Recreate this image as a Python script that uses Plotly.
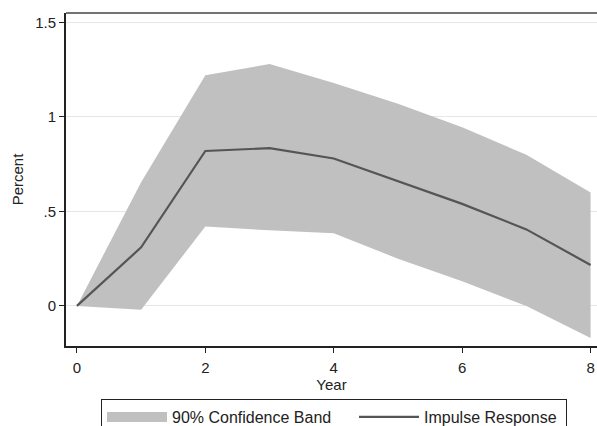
import plotly.graph_objects as go

years = [0, 1, 2, 3, 4, 5, 6, 7, 8]
impulse = [0.0, 0.31, 0.82, 0.835, 0.78, 0.66, 0.54, 0.405, 0.217]
upper = [0.0, 0.655, 1.22, 1.28, 1.18, 1.07, 0.945, 0.80, 0.60]
lower = [0.0, -0.02, 0.42, 0.40, 0.385, 0.25, 0.13, 0.0, -0.17]
yticks = [0, 0.5, 1, 1.5]
yticklabels = ["0", ".5", "1", "1.5"]
xticks = [0, 2, 4, 6, 8]
band_name = "90% Confidence Band"
line_name = "Impulse Response"

fig = go.Figure()
fig.add_trace(go.Scatter(
    x=years + years[::-1], y=upper + lower[::-1],
    fill="toself", fillcolor="#c0c0c0", mode="lines",
    line=dict(width=0, color="#c0c0c0"),
    showlegend=False, hoverinfo="skip"))
# legend-only entry for the band (wide patch)
fig.add_trace(go.Scatter(
    x=[None], y=[None], mode="lines",
    line=dict(width=16, color="#c0c0c0"),
    name=band_name + "\u00a0" * 4))
fig.add_trace(go.Scatter(
    x=years, y=impulse, mode="lines",
    line=dict(color="#555555", width=2.2),
    name=line_name + "\u00a0"))

font = dict(family="Arial, Liberation Sans, sans-serif", size=15, color="#222222")
lfont = dict(family="Arial, Liberation Sans, sans-serif", size=16, color="#222222")
fig.update_layout(
    width=597, height=426,
    margin=dict(l=66, r=0, t=13, b=80, autoexpand=False),
    paper_bgcolor="white", plot_bgcolor="white",
    font=font,
    showlegend=True,
    legend=dict(orientation="h", xref="container", yref="container",
                x=101/597, xanchor="left", y=1 - 399/426, yanchor="top",
                bordercolor="#222222", borderwidth=1, bgcolor="white",
                itemwidth=60, font=lfont, tracegroupgap=0),
)
fig.update_xaxes(range=[-0.17, 8.1], tickvals=xticks, showgrid=False, zeroline=False,
                 ticks="outside", ticklen=5, tickcolor="#222", showline=True,
                 linecolor="#222", linewidth=2, mirror=False, automargin=False,
                 title=dict(text="Year", standoff=0, font=font), ticklabelstandoff=2)
fig.update_yaxes(range=[-0.212, 1.55], tickvals=yticks, ticktext=yticklabels,
                 showgrid=True, gridcolor="#e6e6e6", gridwidth=1, zeroline=False,
                 ticks="outside", ticklen=5, tickcolor="#222", showline=True,
                 linecolor="#222", linewidth=2, mirror=False, automargin=False,
                 title=dict(text="Percent", standoff=8, font=font))
# frame top
fig.add_shape(type="line", xref="paper", yref="paper", x0=0, x1=1, y0=1, y1=1,
              line=dict(color="#444", width=1.5))
fig.write_html("out.html", config={"displayModeBar": False},
               post_script="document.body.style.margin='0';document.body.style.overflow='hidden';")
